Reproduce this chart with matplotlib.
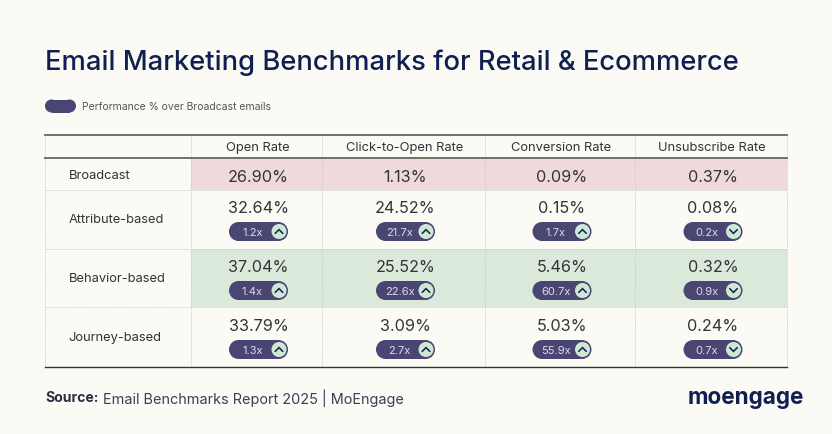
import matplotlib
matplotlib.use("Agg")
import matplotlib.pyplot as plt
from matplotlib.patches import Circle, Rectangle

plt.rcParams["font.family"] = ["Inter", "DejaVu Sans"]

metrics = ["Open Rate", "Click-to-Open Rate", "Conversion Rate", "Unsubscribe Rate"]
segments = ["Broadcast", "Attribute-based", "Behavior-based", "Journey-based"]
broadcast_values = ["26.90%", "1.13%", "0.09%", "0.37%"]
attribute_values = ["32.64%", "24.52%", "0.15%", "0.08%"]
behavior_values = ["37.04%", "25.52%", "5.46%", "0.32%"]
journey_values = ["33.79%", "3.09%", "5.03%", "0.24%"]
attribute_lift = ["1.2x", "21.7x", "1.7x", "0.2x"]
behavior_lift = ["1.4x", "22.6x", "60.7x", "0.9x"]
journey_lift = ["1.3x", "2.7x", "55.9x", "0.7x"]
lift_up = [True, True, True, False]

BG = "#fbfaf4"
NAVY = "#0f1f4f"
PILL = "#4a4674"
MINT = "#cfe8d4"
TEXT = "#33333a"
DOT = "#c6c6c0"

col_x = [45, 191, 322, 485, 635, 787]
row_y = [136, 158.5, 191, 250, 308, 367.5]

fig = plt.figure(figsize=(8.32, 4.35), dpi=100, facecolor=BG)
ax = fig.add_axes([0, 0, 1, 1])
ax.set_xlim(0, 832)
ax.set_ylim(435, 0)
ax.axis("off")


def draw_capsule(left, right, cy, radius):
    ax.add_patch(Rectangle((left + radius, cy - radius), right - left - 2 * radius, 2 * radius,
                           fc=PILL, ec="none", zorder=3))
    ax.add_patch(Circle((left + radius, cy), radius, fc=PILL, ec="none", zorder=3))
    ax.add_patch(Circle((right - radius, cy), radius, fc=PILL, ec="none", zorder=3))


def draw_pill(cx, cy, label, up):
    left, right = cx - 29.5, cx + 29.5
    draw_capsule(left, right, cy, 9.5)
    ax.add_patch(Circle((right - 9, cy), 7.5, fc=MINT, ec="none", zorder=4))
    ax.text(cx - 6, cy + 0.3, label, color="#dcdbe8", fontsize=8, ha="center", va="center", zorder=5)
    tip = -1.9 if up else 1.9
    ax.plot([right - 12.8, right - 9, right - 5.2], [cy - tip, cy + tip, cy - tip],
            color=NAVY, lw=1.1, zorder=5, solid_capstyle="round", solid_joinstyle="miter")


# title and legend
ax.text(45, 62.5, "Email Marketing Benchmarks for Retail & Ecommerce", color=NAVY,
        fontsize=19.67, ha="left", va="center", fontweight="medium")
draw_capsule(45, 76, 107, 6.5)
ax.text(82, 107.5, "Performance % over Broadcast emails", color="#55555a", fontsize=7.5,
        ha="left", va="center")

# highlight bands
ax.add_patch(Rectangle((col_x[1], row_y[1]), col_x[-1] - col_x[1], row_y[2] - row_y[1],
                       fc="#efd9db", ec="none", zorder=1))
ax.add_patch(Rectangle((col_x[1], row_y[3]), col_x[-1] - col_x[1], row_y[4] - row_y[3],
                       fc="#dae9da", ec="none", zorder=1))

# grid
for x in col_x:
    ax.plot([x, x], [row_y[0], row_y[-1]], color=DOT, lw=0.6, ls=(0, (1, 1)), zorder=2)
for y in row_y[2:-1]:
    ax.plot([col_x[0], col_x[-1]], [y, y], color=DOT, lw=0.6, ls=(0, (1, 1)), zorder=2)
ax.plot([col_x[0], col_x[-1]], [row_y[0]] * 2, color="#666660", lw=1.3, zorder=3)
ax.plot([col_x[0], col_x[-1]], [row_y[1]] * 2, color="#666660", lw=1.3, zorder=3)
ax.plot([col_x[0], col_x[-1]], [row_y[-1]] * 2, color="#333333", lw=1.0, zorder=3)

# header row
for i, name in enumerate(metrics):
    ax.text((col_x[i + 1] + col_x[i + 2]) / 2 + 1, 148, name, color=TEXT, fontsize=9.3,
            ha="center", va="center")

# row labels
label_y = [176, 220, 279, 338]
for name, y in zip(segments, label_y):
    ax.text(68.5, y, name, color=TEXT, fontsize=9.3, ha="left", va="center")

# cells
for i in range(4):
    cx = (col_x[i + 1] + col_x[i + 2]) / 2 + 2
    ax.text(cx, 177.5, broadcast_values[i], color=TEXT, fontsize=11.7, ha="center",
            va="center", zorder=5)
    rows = [(attribute_values, attribute_lift, 208.5, 232.5),
            (behavior_values, behavior_lift, 267.5, 291.5),
            (journey_values, journey_lift, 326.5, 350.5)]
    for values, lifts, val_y, pill_y in rows:
        ax.text(cx, val_y, values[i], color=TEXT, fontsize=11.7, ha="center",
                va="center", zorder=5)
        draw_pill(cx, pill_y, lifts[i], lift_up[i])

# footer
ax.text(45, 398, "Source:", color="#2a2f45", fontsize=10.1, fontweight="bold",
        ha="left", va="center")
ax.text(103, 398, "Email Benchmarks Report 2025 | MoEngage", color="#3a3f55", fontsize=10.4,
        ha="left", va="center")
ax.text(688, 398, "moengage", color=NAVY, fontsize=16.2, fontweight="bold",
        ha="left", va="center")

fig.savefig("out.png", dpi=100, facecolor=BG)
